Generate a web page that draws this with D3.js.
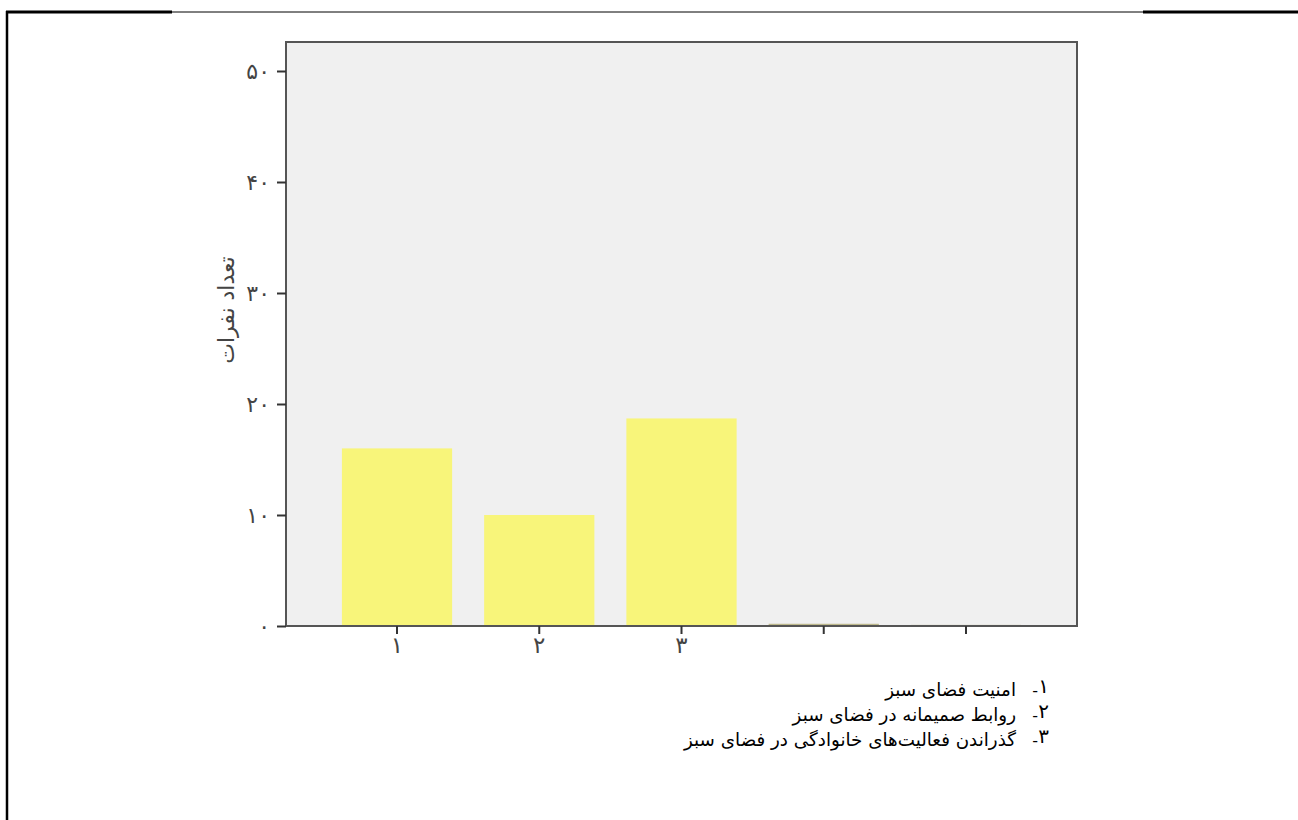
<!DOCTYPE html>
<html><head><meta charset="utf-8">
<script src="https://cdn.jsdelivr.net/npm/d3@7"></script>
<style>body{margin:0;background:#fff}svg{display:block}</style>
</head><body>
<svg id="c" width="1298" height="820"></svg>
<script>
const categories = ["1","2","3","4","5"];
const xTickLabels = ["۱","۲","۳","",""];
const values = [16, 10, 18.7, 0.2, 0.1];
const yTicks = [0,10,20,30,40,50];
const yTickLabels = ["۰","۱۰","۲۰","۳۰","۴۰","۵۰"];
const yTitle = "تعداد نفرات";
const legendNums = ["۱","۲","۳"];
const legendItems = ["امنیت فضای سبز","روابط صمیمانه در فضای سبز","گذراندن فعالیت‌های خانوادگی در فضای سبز"];

const svg = d3.select("#c");
const L=286, R=1077, T=42, B=626;
const font = "'DejaVu Sans', sans-serif";

// outer frame
svg.append("line").attr("x1",6).attr("x2",172).attr("y1",12).attr("y2",12).attr("stroke","#000").attr("stroke-width",3);
svg.append("line").attr("x1",172).attr("x2",1143).attr("y1",12).attr("y2",12).attr("stroke","#000").attr("stroke-width",1);
svg.append("line").attr("x1",1143).attr("x2",1298).attr("y1",12).attr("y2",12).attr("stroke","#000").attr("stroke-width",3);
svg.append("line").attr("x1",7).attr("x2",7).attr("y1",11).attr("y2",820).attr("stroke","#000").attr("stroke-width",2.5);

const x = d3.scaleBand().domain(categories).range([L,R]).paddingInner(0.225).paddingOuter(0.393);
const y = d3.scaleLinear().domain([0,(B-T)/11.1]).range([B,T]);

svg.append("rect").attr("x",L).attr("y",T).attr("width",R-L).attr("height",B-T).attr("fill","#f0f0f0");

svg.selectAll("rect.bar").data(values).join("rect").attr("class","bar")
  .attr("x",(d,i)=>x(categories[i])).attr("width",x.bandwidth())
  .attr("y",d=>y(d)).attr("height",d=>B-y(d))
  .attr("fill",(d,i)=>i<3?"#f8f57a":"#bdb88c");

svg.append("rect").attr("x",L).attr("y",T).attr("width",R-L).attr("height",B-T)
  .attr("fill","none").attr("stroke","#555").attr("stroke-width",2);

// y axis
const ya = svg.append("g").attr("transform",`translate(${L},0)`)
  .call(d3.axisLeft(y).tickValues(yTicks).tickSize(9).tickPadding(7).tickFormat((d,i)=>yTickLabels[i]));
ya.select(".domain").remove();
ya.selectAll(".tick line").attr("stroke","#333").attr("stroke-width",2);
ya.selectAll(".tick text").attr("font-family",font).style("font-size","22px").attr("fill","#444");

// x axis
const xa = svg.append("g").attr("transform",`translate(0,${B})`)
  .call(d3.axisBottom(x).tickSize(8).tickPadding(3).tickFormat((d,i)=>xTickLabels[i]));
xa.select(".domain").remove();
xa.selectAll(".tick line").attr("stroke","#333").attr("stroke-width",2);
xa.selectAll(".tick text").attr("font-family",font).style("font-size","23px").attr("fill","#444");

svg.append("text").attr("transform","translate(234,310) rotate(-90)")
  .attr("text-anchor","middle").attr("font-family",font).style("font-size","22px").attr("fill","#444")
  .text(yTitle);

// legend
const ly = [696, 721, 746];
legendItems.forEach((t,i)=>{
  svg.append("text").attr("x",1049).attr("y",ly[i]-3).attr("text-anchor","end")
    .attr("font-family",font).style("font-size","20px").attr("fill","#000").text(legendNums[i]);
  svg.append("text").attr("x",1038).attr("y",ly[i]).attr("text-anchor","end")
    .attr("font-family",font).style("font-size","16px").attr("fill","#000").text("-");
  svg.append("text").attr("x",1016).attr("y",ly[i]).attr("text-anchor","end")
    .attr("font-family",font).style("font-size","18.3px").attr("fill","#000").text(t);
});
</script>
</body></html>
